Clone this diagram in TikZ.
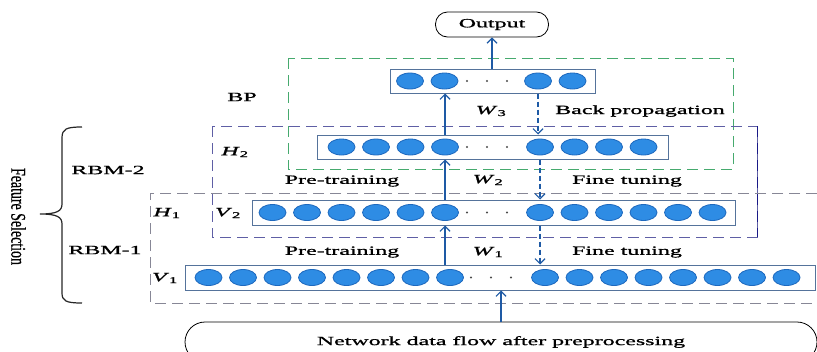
\documentclass[tikz,border=0pt]{standalone}
\usepackage{fontspec}
\setmainfont[FakeStretch=1.9,FakeBold=1.2]{Liberation Serif}
\newfontfamily\slimfont[FakeBold=0.8]{Liberation Serif}
\usetikzlibrary{shapes,arrows.meta}

\definecolor{unitblue}{RGB}{46,140,228}
\definecolor{unitedge}{RGB}{30,105,190}
\definecolor{boxedge}{RGB}{85,115,155}
\definecolor{arrowblue}{RGB}{30,90,165}
\definecolor{bpgreen}{RGB}{70,170,110}
\definecolor{rbmtwo}{RGB}{95,95,165}
\definecolor{rbmnavy}{RGB}{25,25,135}
\definecolor{rbmone}{RGB}{135,135,150}

\begin{document}
\begin{tikzpicture}[x=1pt,y=-1pt,
     unit/.style={ellipse,draw=unitedge,fill=unitblue,line width=0.8pt,minimum width=27pt,minimum height=16pt,inner sep=0pt},
     layer/.style={draw=boxedge,fill=white,line width=1pt,minimum height=24pt,inner sep=0pt},
     lab/.style={font=\fontsize{12.6}{14}\selectfont,inner sep=0pt},
     up/.style={draw=arrowblue,line width=1.2pt,-{Straight Barb[length=5pt,width=10pt]}},
     down/.style={up,dash pattern=on 5pt off 3pt},
     frame/.style={line width=1pt,dash pattern=on 11pt off 6pt},
     term/.style={draw=black,line width=0.8pt,rounded corners=12pt,inner sep=0pt,lab},
     curly/.style={line width=1.2pt,black!85}
     ]
\useasboundingbox (0,0) rectangle (817,351);
\clip (0,0) rectangle (817,351);

%Spacing of the units in a row
\def \gap{34.5}

%Dashed frames: BP, RBM-2, RBM-1
\draw[frame,bpgreen] (288,58) rectangle (733,169);
\draw[frame,rbmtwo] (212,126) rectangle (757,237);
\draw[frame,rbmnavy] (757,126) -- (757,237);
\draw[frame,rbmone] (817,193) -- (150,193) -- (150,303) -- (817,303);

%Layer boxes
\node[layer,minimum width=205pt] (L3) at (492.5,81) {};
\node[layer,minimum width=351pt] (L2) at (492.5,147) {};
\node[layer,minimum width=483pt,minimum height=25pt] (L1) at (493.5,212.5) {};
\node[layer,minimum width=630pt,minimum height=25pt] (L0) at (500,277.5) {};

%Units of each layer
\foreach \i in {1,2}
   {
\node[unit] (L3-\i) at ({410+(\i-1)*\gap},81) {};
\pgfmathsetmacro{\j}{int(\i+2)}
\node[unit] (L3-\j) at ({538+(\i-1)*\gap},81) {};
   }
\foreach \i in {1,...,4}
   {
\node[unit] (L2-\i) at ({341.5+(\i-1)*\gap},147) {};
\pgfmathsetmacro{\j}{int(\i+4)}
\node[unit] (L2-\j) at ({540+(\i-1)*\gap},147) {};
   }
\foreach \i in {1,...,6}
   {
\node[unit] (L1-\i) at ({272.5+(\i-1)*\gap},212.5) {};
\pgfmathsetmacro{\j}{int(\i+6)}
\node[unit] (L1-\j) at ({540+(\i-1)*\gap},212.5) {};
   }
\foreach \i in {1,...,8}
   {
\node[unit] (L0-\i) at ({208.5+(\i-1)*\gap},277.5) {};
\pgfmathsetmacro{\j}{int(\i+8)}
\node[unit] (L0-\j) at ({545+(\i-1)*\gap},277.5) {};
   }

%Dots between the two groups
\foreach \y in {81,147,212.5}
   \foreach \d in {0,1,2}
      \fill[black!70] ({467+20*\d},\y) circle (1.1pt);
\foreach \d in {0,1,2}
   \fill[black!70] ({471+20*\d},277.5) circle (1.1pt);

%Input and output
\node[term,minimum width=113pt,minimum height=25pt] (Output) at (492,24.5) {Output};
\node[term,minimum width=632pt,minimum height=40pt,rounded corners=20pt] (Net) at (501,342) {Network data flow after preprocessing};

%Arrows
\draw[up] (L3.north -| Output) -- (Output.south);
\draw[up] (L2.north -| L2-4) -- (L3.south -| L2-4);
\draw[down] (L3.south -| L3-3) -- (L2.north -| L3-3);
\draw[up] (L1.north -| L1-6) -- (L2.south -| L1-6);
\draw[down] (L2.south -| L2-5) -- (L1.north -| L2-5);
\draw[up] (L0.north -| L1-6) -- (L1.south -| L1-6);
\draw[down] (L1.south -| L1-7) -- (L0.north -| L1-7);
\draw[up] (Net.north) -- (L0.south -| Net);

%Labels
\node[lab] (lblBP) at (242,97) {BP};
\node[lab] (lblH2) at (235,152) {\textit{H}\textsubscript{2}};
\node[lab] (lblH1) at (167,213) {\textit{H}\textsubscript{1}};
\node[lab] (lblV2) at (228,213) {\textit{V}\textsubscript{2}};
\node[lab] (lblV1) at (165,278) {\textit{V}\textsubscript{1}};
\node[lab] (lblW3) at (491,111) {\textit{W}\textsubscript{3}};
\node[lab] (lblW2) at (488,180) {\textit{W}\textsubscript{2}};
\node[lab] (lblW1) at (488,252) {\textit{W}\textsubscript{1}};
\node[lab] (lblBack) at (640,111) {Back propagation};
\node[lab] (lblPre2) at (342,181) {Pre-training};
\node[lab] (lblPre1) at (342,252) {Pre-training};
\node[lab] (lblFine2) at (627,181) {Fine tuning};
\node[lab] (lblFine1) at (627,252) {Fine tuning};
\node[lab] (lblR2) at (108,170) {RBM-2};
\node[lab] (lblR1) at (105,250) {RBM-1};

%Brace for feature selection
\draw[curly] (82,127) .. controls (66,127) and (62,129) .. (62,138) -- (62,204) .. controls (62,211) and (57,214) .. (40,214) .. controls (57,214) and (62,217) .. (62,224) -- (62,293) .. controls (62,301) and (66,303) .. (82,303);
\node[inner sep=0pt] (lblFS) at (18.5,216.5) {\scalebox{1.5}[1]{\rotatebox{-90}{\slimfont\fontsize{13.9}{15}\selectfont Feature Selection}}};
\end{tikzpicture}
\end{document}
